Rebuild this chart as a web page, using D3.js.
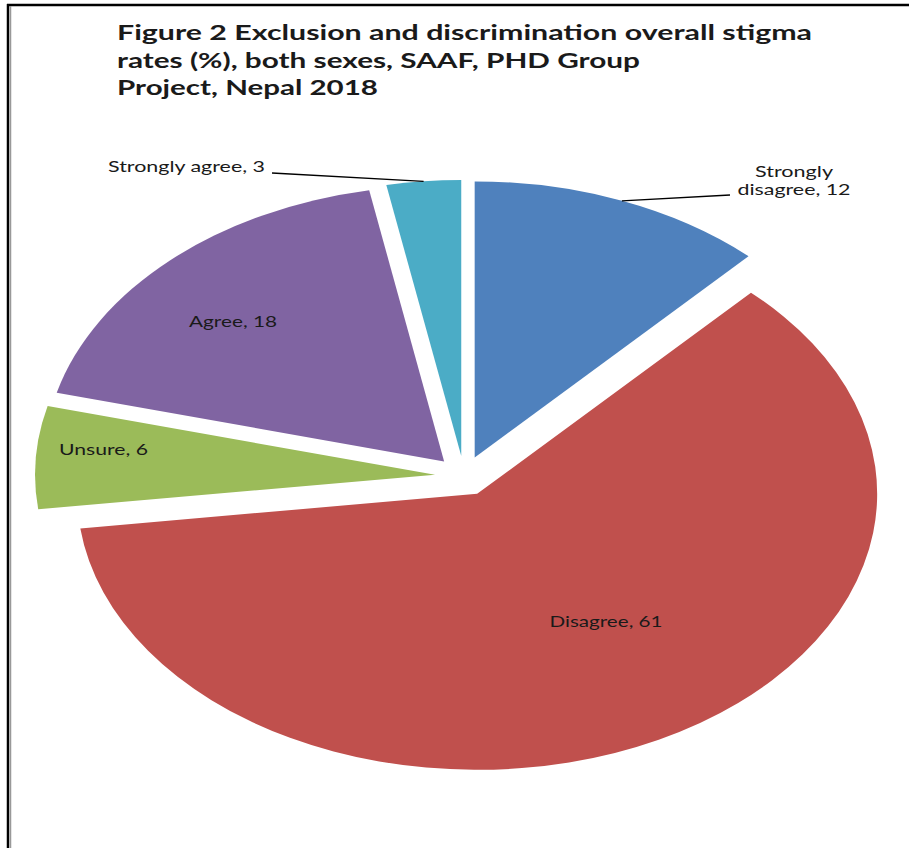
<!DOCTYPE html>
<html>
<head>
<meta charset="utf-8">
<script src="https://cdn.jsdelivr.net/npm/d3@7"></script>
<style>
  html, body { margin: 0; padding: 0; background: #fff; }
  svg { display: block; }
  text { font-family: Lato, "Open Sans", sans-serif; fill: #1a1a1a; }
</style>
</head>
<body>
<svg id="chart" width="909" height="848"></svg>
<script>
// Survey responses (% of respondents)
const categories = ["Strongly disagree", "Disagree", "Unsure", "Agree", "Strongly agree"];
const values = [12, 61, 6, 18, 3];
const colors = ["#4F81BD", "#C0504D", "#9BBB59", "#8064A2", "#4BACC6"];
const titleLines = [
  "Figure 2 Exclusion and discrimination overall stigma",
  "rates (%), both sexes, SAAF, PHD Group",
  "Project, Nepal 2018"
];

const W = 909, H = 848;
const svg = d3.select("#chart");

// Frame (top rule and double left rule)
svg.append("line").attr("x1", 7).attr("x2", W).attr("y1", 5).attr("y2", 5)
  .attr("stroke", "#000").attr("stroke-width", 2.5);
svg.append("line").attr("x1", 8).attr("x2", 8).attr("y1", 4).attr("y2", H)
  .attr("stroke", "#000").attr("stroke-width", 2.5);
svg.append("line").attr("x1", 10.5).attr("x2", 10.5).attr("y1", 6).attr("y2", H)
  .attr("stroke", "#999").attr("stroke-width", 1.5);

// Title
const titleWidths = [695, 523, 261];
svg.append("g").selectAll("text").data(titleLines).join("text")
  .attr("x", 117)
  .attr("y", (d, i) => 40 + i * 27.5)
  .attr("font-size", 21)
  .attr("font-weight", "bold")
  .attr("fill", "#000")
  .attr("textLength", (d, i) => titleWidths[i])
  .attr("lengthAdjust", "spacingAndGlyphs")
  .text(d => d);

// Pie geometry: tilted disc (vertical squash), every slice pulled out along its bisector
const cx = 464, cy = 476, R = 400, tilt = 0.69, explode = 29;

const pie = d3.pie().sort(null).value(d => d.value);
const slices = pie(categories.map((c, i) => ({ category: c, value: values[i], color: colors[i] })));
const arc = d3.arc().innerRadius(0).outerRadius(R);

const mid = d => (d.startAngle + d.endAngle) / 2;
// project a polar point (angle clockwise from 12 o'clock) of slice d onto the page
function project(d, angle, r) {
  const m = mid(d);
  const ox = Math.sin(m) * explode, oy = -Math.cos(m) * explode;
  return [cx + ox + Math.sin(angle) * r, cy + (oy - Math.cos(angle) * r) * tilt];
}

const pieG = svg.append("g").attr("transform", `translate(${cx},${cy}) scale(1,${tilt})`);
pieG.selectAll("path").data(slices).join("path")
  .attr("transform", d => `translate(${Math.sin(mid(d)) * explode},${-Math.cos(mid(d)) * explode})`)
  .attr("d", arc)
  .attr("fill", d => d.data.color);

// Data labels
const labelLayout = {
  "Strongly disagree": { lines: ["Strongly", "disagree, 12"], x: 794, y: 177, widths: [78, 113], leader: [730, 195] },
  "Disagree": { x: 606, y: 627, widths: [113] },
  "Unsure": { x: 103.5, y: 455, widths: [89] },
  "Agree": { x: 233, y: 327, widths: [88] },
  "Strongly agree": { x: 186.5, y: 172, widths: [157], leader: [272, 173] }
};

const labelG = svg.append("g");
slices.forEach(d => {
  const L = labelLayout[d.data.category];
  const lines = L.lines || [`${d.data.category}, ${d.data.value}`];
  if (L.leader) {
    const p = project(d, mid(d), R);
    labelG.append("line")
      .attr("x1", p[0]).attr("y1", p[1])
      .attr("x2", L.leader[0]).attr("y2", L.leader[1])
      .attr("stroke", "#000").attr("stroke-width", 1.3);
  }
  lines.forEach((t, i) => {
    labelG.append("text")
      .attr("x", L.x).attr("y", L.y + i * 18)
      .attr("text-anchor", "middle")
      .attr("font-size", 15)
      .attr("textLength", L.widths[i])
      .attr("lengthAdjust", "spacingAndGlyphs")
      .text(t);
  });
});
</script>
</body>
</html>
